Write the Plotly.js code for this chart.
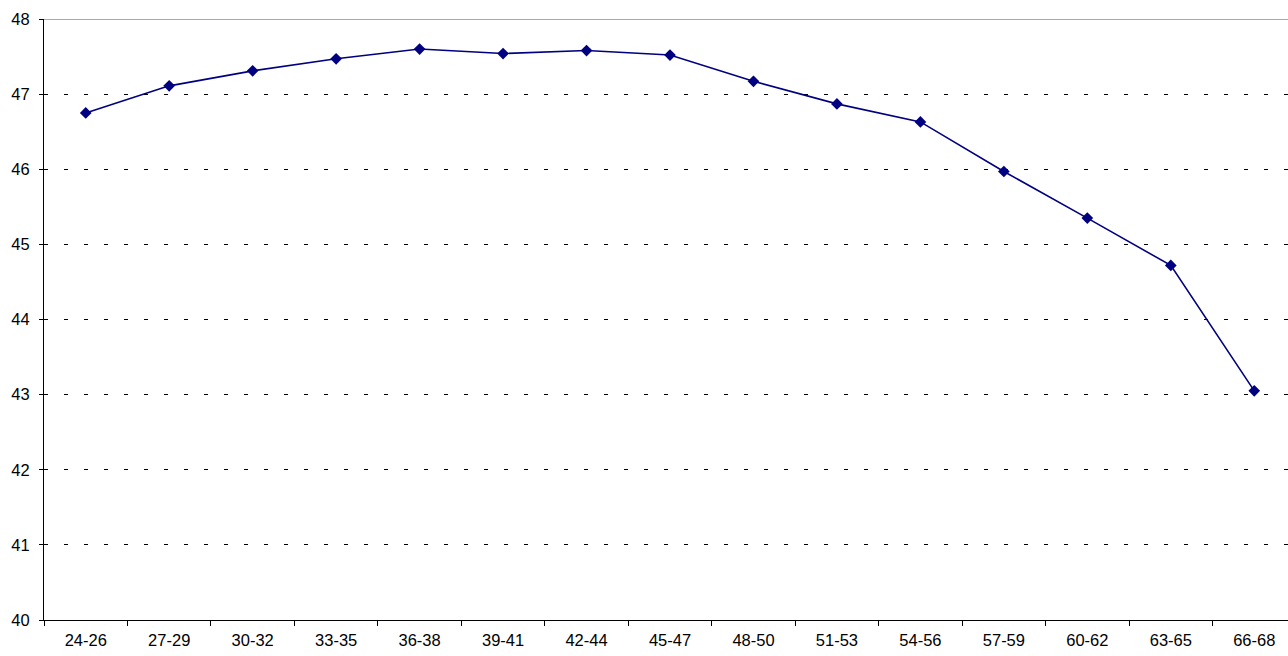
<!DOCTYPE html>
<html>
<head>
<meta charset="utf-8">
<script src="https://cdn.plot.ly/plotly-3.0.1.min.js"></script>
<style>
html,body{margin:0;padding:0;overflow:hidden;background:#fff;}
#chart{width:1310px;height:656px;}
</style>
</head>
<body>
<div id="chart"></div>
<script>
const categories = ["24-26","27-29","30-32","33-35","36-38","39-41","42-44","45-47","48-50","51-53","54-56","57-59","60-62","63-65","66-68"];
const values = [46.75,47.11,47.31,47.47,47.60,47.54,47.58,47.52,47.17,46.87,46.63,45.97,45.35,44.72,43.05];
const yTicks = [40,41,42,43,44,45,46,47,48];

const FONT = 'Liberation Sans, Arial, sans-serif';

const trace = {
  x: categories,
  y: values,
  type: 'scatter',
  mode: 'lines+markers',
  line: {color: '#000080', width: 1.6},
  marker: {symbol: 'diamond', size: 9, color: '#000080'},
  hoverinfo: 'skip'
};

const layout = {
  width: 1310,
  height: 656,
  margin: {l: 44, r: 14, t: 19, b: 36},
  paper_bgcolor: '#fff',
  plot_bgcolor: '#fff',
  showlegend: false,
  font: {family: FONT, size: 16.5, color: '#000'},
  xaxis: {
    type: 'category',
    range: [-0.5, categories.length - 0.5],
    showgrid: false,
    zeroline: false,
    showline: true,
    linecolor: '#000',
    linewidth: 1,
    ticks: 'outside',
    tickson: 'boundaries',
    ticklen: 5,
    tickcolor: '#000',
    ticklabelstandoff: 5,
    tickfont: {family: FONT, size: 16.5, color: '#000'}
  },
  yaxis: {
    range: [40, 48],
    tickvals: yTicks,
    ticktext: yTicks.map(String),
    showgrid: true,
    gridcolor: '#000',
    gridwidth: 1,
    griddash: '4px,16px',
    zeroline: false,
    showline: true,
    linecolor: '#000',
    linewidth: 1,
    ticks: 'outside',
    ticklen: 4,
    tickcolor: '#000',
    ticklabelstandoff: 6,
    tickfont: {family: FONT, size: 16.5, color: '#000'}
  },
  shapes: [{
    type: 'line', xref: 'paper', yref: 'y', x0: 0, x1: 1, y0: 48, y1: 48,
    line: {color: '#8c8c8c', width: 1.5}
  }]
};

Plotly.newPlot('chart', [trace], layout, {displayModeBar: false, staticPlot: true});
</script>
</body>
</html>
